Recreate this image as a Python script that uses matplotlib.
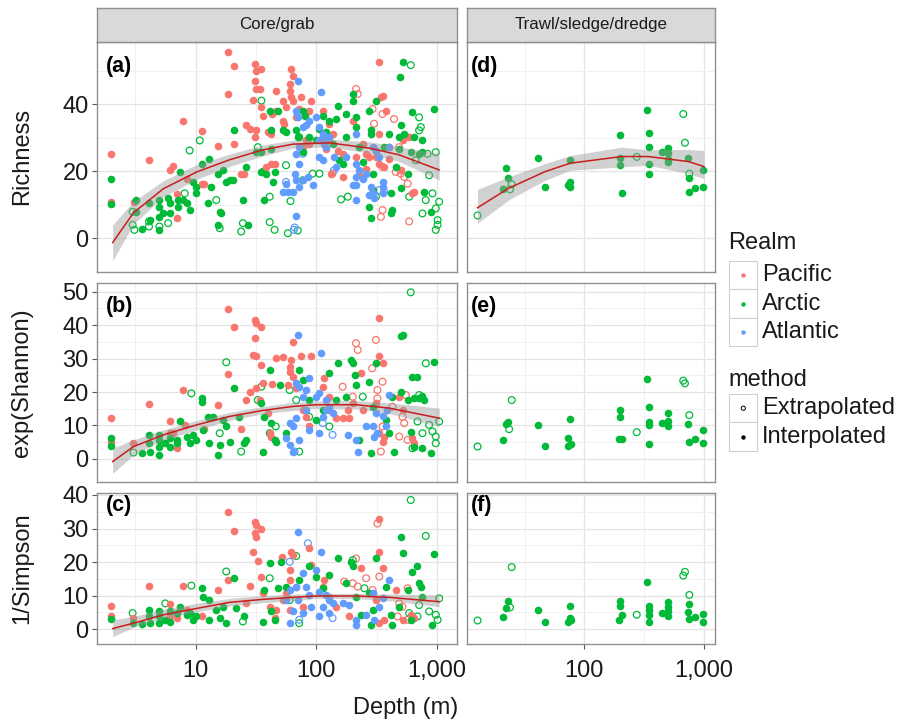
import matplotlib
matplotlib.use("Agg")
import matplotlib.pyplot as plt
from matplotlib.patches import Rectangle
from matplotlib.ticker import FixedLocator, NullFormatter

plt.rcParams["font.family"] = ["Liberation Sans", "DejaVu Sans"]

W, H = 897, 723

PACIFIC = "#F8766D"
ARCTIC = "#00BA38"
ATLANTIC = "#619CFF"

# ---------------------------------------------------------------------------
# Data: (depth m, value)
# ---------------------------------------------------------------------------
# (a) Richness, core/grab
A_PAC_FILLED = [(2.0, 25.2), (2.0, 10.7), (3.05, 10.7), (4.1, 23.5), (6.1, 20.3), (6.5, 21.6), (7.8, 35.1),
                (7.0, 13.1), (7.0, 5.9), (8.4, 17.8), (11.2, 32.0), (11.2, 16.3), (11.8, 16.1), (15.3, 27.4),
                (20.8, 28.0), (18.5, 55.6), (20.8, 51.3), (18.5, 43.1), (26, 33.7), (28, 32.7), (23.8, 19.3),
                (25, 19.1), (30.8, 52.0), (31.7, 50.0), (35, 50.5), (30.8, 47.0), (31.7, 44.6), (33.8, 44.6),
                (29.8, 41.3), (35, 39.1), (36, 36.6), (30.8, 30.2), (31.7, 32.2), (39.7, 31.7), (42, 31.2),
                (42, 22.3), (45, 22.3), (38.4, 21.3), (46, 44.1), (53, 41.1), (46, 38.1), (43, 37.1), (53, 35.1),
                (54, 34.2), (60, 46.0), (62, 50.5), (64, 48.5), (60, 44.1), (62, 42.1), (64, 41.1), (68, 36.1),
                (56, 39.1), (72, 38.6), (75, 42.1), (87, 38.1), (90, 41.1), (82, 29.2), (87, 28.2), (77, 27.2),
                (113, 38.1), (128, 34.2), (113, 30.2), (128, 29.2), (136, 31.2), (120, 26.7), (150, 26.2),
                (165, 25.2), (200, 35.1), (213, 24.3), (242, 28.2), (258, 25.2), (274, 24.3), (311, 24.3),
                (332, 52.5), (342, 42.1), (353, 42.6), (332, 31.2), (376, 38.1), (401, 27.2), (311, 26.2),
                (332, 22.3), (365, 21.3), (517, 29.2), (587, 30.2), (625, 13.4), (645, 13.9), (132, 19.3),
                (165, 18.3), (227, 18.8), (258, 20.8), (401, 23.8), (500, 20.3)]
A_PAC_OPEN = [(213, 44.6), (220, 43.1), (292, 38.6), (353, 37.1), (440, 35.6), (300, 34.2), (551, 30.4),
              (485, 27.2), (455, 19.8), (500, 19.3), (534, 18.3), (570, 16.3), (353, 21.3), (353, 8.4),
              (342, 6.4), (136, 19.3), (587, 5.0)]
A_ARC_FILLED = [(2.0, 17.6), (2.0, 10.2), (3.2, 11.4), (3.2, 7.9), (3.6, 2.7), (4.1, 10.4), (4.2, 5.4),
                (5.0, 11.4), (5.0, 9.4), (5.0, 6.4), (5.0, 2.5), (5.4, 7.4), (5.9, 11.9), (6.1, 10.4), (6.1, 7.4),
                (7.1, 11.4), (7.1, 9.4), (7.9, 11.4), (8.4, 10.4), (8.9, 8.4), (7.4, 19.8), (9.5, 16.8),
                (10.1, 13.4), (10.1, 15.3), (11.2, 22.3), (12.6, 10.4), (13, 23.8), (13.5, 15.3), (15.3, 19.3),
                (15.8, 7.9), (15.3, 4.0), (16.3, 7.4), (16.8, 20.3), (17.9, 16.8), (19.1, 17.3), (20.8, 32.2),
                (20.3, 17.3), (24.6, 11.4), (27, 4.0), (26, 21.3), (31.7, 25.7), (35, 25.7), (37, 11.4),
                (35, 19.8), (38.4, 19.3), (41, 38.1), (42, 32.2), (42, 26.7), (43.5, 16.8), (45, 19.8),
                (48, 38.1), (53, 32.2), (56, 31.7), (68, 32.2), (70, 30.2), (77, 38.1), (80, 36.6), (77, 25.7),
                (87, 30.2), (99, 29.2), (106, 32.7), (113, 36.6), (120, 31.7), (128, 35.1), (145, 35.6),
                (150, 39.6), (136, 28.2), (155, 23.3), (165, 22.3), (176, 37.1), (176, 30.2), (200, 43.1),
                (200, 41.1), (213, 36.1), (213, 33.2), (227, 27.2), (242, 22.8), (274, 38.1), (283, 32.2),
                (283, 31.2), (292, 19.3), (292, 14.4), (274, 9.4), (283, 5.9), (311, 41.1), (365, 27.2),
                (401, 31.2), (414, 13.4), (427, 8.4), (414, 7.4), (455, 21.3), (485, 30.2), (500, 33.7),
                (485, 26.7), (500, 14.9), (517, 52.7), (490, 48.2), (534, 31.2), (570, 19.3), (605, 25.7),
                (625, 37.6), (645, 30.2), (710, 25.2), (756, 25.7), (756, 29.2), (780, 13.9), (885, 7.9),
                (945, 38.6)]
A_ARC_OPEN = [(3.0, 7.9), (3.0, 4.0), (3.1, 2.5), (4.1, 5.0), (4.1, 3.5), (5.0, 3.5), (5.9, 4.5), (8.1, 13.4),
              (8.9, 26.2), (10.8, 29.2), (14.8, 11.4), (15.8, 3.0), (24.6, 4.5), (23.8, 2.0), (32.7, 27.2),
              (35, 41.1), (36, 19.8), (41, 12.4), (41, 4.8), (45, 2.5), (56, 21.8), (61, 11.1), (58, 1.5),
              (70, 2.3), (72, 30.2), (77, 17.3), (93, 19.3), (106, 19.3), (160, 11.6), (182, 12.4), (311, 12.4),
              (587, 12.4), (605, 51.7), (710, 36.1), (733, 33.2), (710, 32.2), (666, 23.3), (832, 25.2),
              (975, 25.7), (859, 18.8), (915, 13.4), (975, 8.9), (1010, 5.4), (1010, 4.0), (975, 2.5),
              (1040, 10.9), (756, 7.4), (806, 11.4)]
A_ATL_FILLED = [(70, 47.0), (110, 43.6), (68, 38.1), (70, 36.1), (77, 33.2), (82, 33.7), (87, 35.1), (99, 36.1),
                (106, 33.2), (113, 31.2), (106, 29.2), (116, 28.2), (120, 30.2), (128, 30.2), (72, 27.2),
                (68, 25.2), (72, 22.3), (66, 19.3), (68, 17.3), (77, 17.3), (72, 15.3), (56, 16.3), (53, 13.9),
                (58, 13.9), (64, 13.9), (85, 18.3), (93, 15.8), (113, 23.3), (120, 27.2), (106, 24.3),
                (140, 24.3), (145, 21.3), (176, 24.3), (213, 31.2), (213, 22.3), (227, 20.3), (213, 18.3),
                (200, 15.8), (213, 15.8), (213, 11.4), (242, 17.8), (258, 19.3), (274, 12.9), (283, 15.3),
                (292, 13.4), (300, 11.9), (332, 24.3), (353, 16.8), (353, 15.3), (353, 13.4), (401, 27.2),
                (68, 6.6), (292, 27.2), (311, 26.2)]
A_ATL_OPEN = [(66, 3.2), (65, 2.5), (56, 16.8), (332, 14.4), (365, 13.9), (77, 25.2), (140, 20.3)]

# (b) exp(Shannon), core/grab
B_PAC_FILLED = [(2.0, 12.2), (2.0, 5.2), (3.0, 4.7), (4.1, 16.4), (6.1, 11.2), (6.1, 7.7), (6.5, 7.7),
                (7.0, 3.2), (7.8, 20.6), (8.1, 10.2), (11.8, 8.9), (15.3, 16.1), (18.5, 44.7), (20.8, 39.3),
                (18.5, 25.3), (26, 17.6), (28, 20.1), (23.8, 8.9), (30.8, 41.5), (31.7, 40.5), (35, 39.5),
                (30.8, 36.3), (29.8, 31.1), (31.7, 30.8), (35, 28.1), (31.7, 21.1), (36, 22.6), (33.8, 17.6),
                (39.7, 13.6), (41, 7.7), (42, 6.7), (43, 22.3), (46, 30.1), (53, 30.4), (62, 29.6), (60, 27.6),
                (64, 35.1), (60, 26.1), (64, 24.6), (68, 21.1), (58, 22.1), (75, 30.8), (90, 30.8), (77, 14.6),
                (82, 12.6), (87, 9.7), (113, 21.6), (116, 24.1), (128, 18.6), (128, 14.6), (145, 12.2),
                (165, 12.2), (182, 14.6), (188, 12.2), (200, 16.6), (235, 25.6), (242, 14.6), (332, 42.0),
                (332, 30.8), (353, 28.6), (311, 16.6), (332, 7.7), (353, 5.2), (365, 6.7), (517, 14.6),
                (485, 18.6), (625, 6.2), (645, 4.7)]
B_PAC_OPEN = [(213, 34.6), (220, 32.6), (311, 35.6), (290, 27.1), (353, 23.1), (320, 20.6), (320, 18.1),
              (165, 21.6), (200, 18.6), (427, 15.6), (551, 19.1), (517, 12.6), (534, 10.7), (485, 6.7),
              (570, 5.7), (342, 2.2), (353, 9.7)]
B_ARC_FILLED = [(2.0, 6.2), (2.0, 3.9), (3.6, 1.9), (4.1, 7.2), (4.1, 4.7), (4.2, 2.2), (5.0, 7.2), (5.0, 5.7),
                (5.0, 3.7), (5.0, 1.2), (5.6, 4.7), (6.1, 6.2), (6.1, 3.7), (7.0, 5.7), (7.0, 4.7), (7.4, 11.2),
                (8.4, 6.7), (8.9, 4.7), (9.5, 7.2), (10.1, 5.7), (11.2, 18.1), (11.2, 17.1), (11.5, 8.7),
                (13, 4.7), (12.6, 12.6), (13.9, 12.6), (15.3, 1.2), (15.8, 4.2), (16.8, 11.7), (17.9, 9.7),
                (19.1, 5.2), (20.8, 21.1), (23, 12.6), (25, 4.7), (26, 5.7), (36, 2.2), (37, 12.6), (35, 16.6),
                (41, 26.6), (42, 10.7), (45, 5.7), (46, 5.2), (49.5, 22.1), (56, 7.7), (72, 26.6), (77, 23.6),
                (87, 17.6), (99, 11.7), (113, 14.6), (128, 25.6), (145, 17.6), (150, 28.6), (176, 18.6),
                (194, 29.6), (200, 28.6), (207, 25.1), (213, 22.1), (227, 5.7), (274, 23.1), (283, 1.7),
                (292, 15.6), (311, 28.6), (376, 11.7), (401, 7.7), (427, 18.6), (440, 2.2), (500, 20.1),
                (500, 36.6), (517, 37.1), (570, 17.6), (625, 24.6), (688, 24.6), (645, 18.1), (710, 18.1),
                (780, 17.6), (605, 8.2), (645, 3.7), (756, 3.2), (945, 29.1), (885, 1.7), (756, 18.8)]
B_ARC_OPEN = [(3.05, 1.9), (9.2, 19.6), (17.9, 28.9), (15.8, 7.7), (23.8, 2.2), (32.7, 17.6), (35, 21.6),
              (41, 7.7), (46, 9.7), (60, 20.6), (68, 17.6), (72, 2.2), (87, 12.6), (128, 9.7), (242, 18.6),
              (605, 49.8), (806, 28.6), (710, 19.1), (688, 11.2), (756, 7.7), (859, 10.2), (975, 6.7),
              (975, 4.7), (1040, 11.2), (625, 3.2), (915, 8.2)]
B_ATL_FILLED = [(70, 37.1), (110, 31.8), (68, 22.6), (72, 21.6), (82, 20.6), (87, 24.1), (99, 18.6),
                (106, 19.6), (120, 17.6), (128, 15.6), (120, 14.6), (136, 13.6), (113, 12.6), (77, 18.6),
                (82, 14.6), (68, 12.2), (64, 9.7), (60, 10.7), (56, 6.2), (60, 4.2), (64, 2.2), (72, 5.7),
                (87, 8.7), (106, 7.7), (182, 7.2), (213, 5.7), (220, 2.2), (258, 9.7), (311, 13.6), (320, 7.7),
                (300, 6.7), (353, 12.7), (388, 14.6), (401, 19.1), (376, 9.7), (292, 9.7)]
B_ATL_OPEN = [(66, 2.2), (136, 7.2), (113, 10.7)]

# (c) 1/Simpson, core/grab
C_PAC_FILLED = [(2.0, 6.9), (2.0, 3.8), (3.0, 3.3), (4.1, 12.9), (6.1, 7.5), (6.1, 3.8), (7.0, 3.3),
                (7.8, 12.9), (8.4, 5.8), (11.2, 3.8), (15.3, 11.7), (18.5, 34.8), (20.8, 29.4), (18.5, 14.7),
                (26, 7.7), (28, 12.9), (29.8, 23.0), (30.8, 32.0), (31.7, 31.1), (30.8, 28.6), (31.7, 27.6),
                (35, 29.8), (32.7, 20.4), (35, 15.7), (36, 10.7), (41, 6.7), (45, 3.3), (46, 5.8), (52, 21.6),
                (60, 17.7), (62, 23.1), (64, 22.1), (60, 14.7), (68, 12.7), (56, 10.7), (53, 8.7), (60, 5.8),
                (77, 6.7), (87, 24.1), (90, 19.1), (113, 12.7), (128, 9.7), (116, 14.7), (145, 6.7), (188, 3.8),
                (235, 18.2), (332, 32.7), (332, 23.1), (353, 18.2), (311, 8.7), (332, 1.8), (365, 2.8),
                (455, 11.7), (517, 2.8), (605, 4.3), (645, 3.3)]
C_PAC_OPEN = [(320, 31.5), (213, 21.1), (170, 14.2), (200, 13.7), (220, 12.7), (258, 15.2), (332, 15.7),
              (292, 11.7), (570, 12.2), (485, 7.7), (517, 6.7), (470, 3.8), (570, 2.8)]
C_ARC_FILLED = [(2.0, 3.0), (3.0, 1.8), (3.6, 1.6), (4.1, 5.8), (4.1, 3.8), (4.2, 1.8), (5.0, 5.3), (5.0, 3.8),
                (5.0, 1.8), (5.6, 2.8), (6.1, 5.3), (6.1, 2.3), (7.0, 4.8), (7.4, 6.7), (8.4, 4.3), (8.9, 4.8),
                (9.5, 2.8), (10.1, 3.8), (11.2, 12.2), (11.5, 9.7), (13, 8.7), (13, 2.8), (14.8, 5.8),
                (15.8, 3.3), (16.8, 6.7), (17.9, 1.8), (20.8, 15.4), (21.7, 6.3), (25, 3.8), (36, 2.3),
                (37, 11.7), (41, 19.6), (42, 5.3), (45, 2.8), (48, 12.2), (51, 20.1), (56, 12.7), (72, 14.7),
                (87, 18.7), (99, 15.7), (113, 12.2), (128, 16.2), (150, 21.1), (176, 13.7), (194, 20.1),
                (200, 18.7), (213, 9.7), (235, 4.3), (274, 10.7), (283, 1.3), (292, 5.8), (311, 21.1),
                (376, 12.7), (427, 1.3), (414, 4.3), (500, 27.6), (517, 22.6), (570, 11.7), (625, 17.2),
                (688, 18.8), (710, 13.7), (733, 12.7), (756, 9.7), (915, 1.3), (945, 22.4), (605, 2.8),
                (485, 6.7)]
C_ARC_OPEN = [(3.0, 4.8), (5.6, 7.7), (9.2, 13.0), (17.9, 17.2), (24.6, 2.3), (41, 15.2), (68, 21.8),
              (72, 1.8), (60, 8.7), (200, 20.6), (250, 12.2), (605, 38.5), (806, 27.8), (710, 7.2), (859, 5.3),
              (975, 4.3), (1040, 9.2), (1010, 2.8), (688, 3.8), (587, 4.8)]
C_ATL_FILLED = [(70, 29.1), (110, 23.1), (56, 8.7), (60, 11.7), (68, 12.7), (70, 8.7), (77, 16.7), (82, 12.7),
                (87, 10.2), (99, 17.7), (106, 11.2), (120, 10.2), (128, 8.7), (136, 7.7), (113, 6.7), (64, 5.3),
                (60, 1.8), (77, 4.8), (90, 6.7), (106, 3.8), (128, 4.8), (165, 7.7), (188, 7.2), (213, 2.8),
                (213, 1.3), (258, 4.3), (292, 10.7), (332, 6.7), (353, 9.2), (401, 14.7), (300, 2.8)]
C_ATL_OPEN = [(85, 25.6), (60, 20.1), (136, 3.3), (72, 2.8)]

# (d)-(f) trawl/sledge/dredge: Arctic only
D_ARC_FILLED = [(21, 14.7), (22, 21.0), (23, 18.0), (41.3, 24.1), (47, 15.3), (75.8, 23.5), (73.5, 16.0),
                (75.8, 16.8), (75.8, 15.3), (199, 30.7), (199, 24.0), (199, 21.8), (205, 13.4), (332, 38.3),
                (347, 31.4), (347, 27.2), (347, 22.1), (347, 19.1), (443, 25.7), (497, 27.0), (503, 25.4),
                (497, 23.8), (503, 22.8), (739, 24.1), (754, 18.0), (754, 13.9), (841, 15.1), (987, 15.3),
                (987, 20.5)]
D_ARC_OPEN = [(12.8, 6.8), (23.9, 14.6), (24.7, 16.1), (274, 24.3), (671, 37.1), (693, 28.5), (754, 19.3)]
E_ARC_FILLED = [(21, 5.7), (22, 10.5), (23, 10.9), (41.3, 10.2), (47, 3.9), (75.8, 11.9), (73.5, 6.2),
                (73.5, 4.0), (77, 4.4), (199, 14.6), (199, 12.6), (195, 5.9), (205, 5.9), (332, 24.0),
                (347, 15.6), (347, 10.9), (347, 10.2), (347, 4.5), (443, 10.7), (497, 13.8), (503, 11.2),
                (503, 9.7), (739, 10.5), (754, 5.0), (841, 5.9), (987, 8.7), (987, 4.9)]
E_ARC_OPEN = [(12.8, 3.7), (24.7, 17.6), (23.5, 8.9), (274, 8.0), (671, 23.4), (693, 22.6), (754, 13.1)]
F_ARC_FILLED = [(21, 3.7), (22, 6.3), (23, 8.4), (41.3, 5.6), (47, 2.2), (75.8, 6.9), (73.5, 2.3), (75.8, 3.3),
                (77, 2.8), (199, 8.5), (199, 6.9), (205, 4.2), (195, 2.8), (332, 14.2), (347, 6.9), (347, 5.8),
                (347, 4.3), (347, 2.2), (443, 4.8), (497, 8.2), (503, 6.7), (503, 5.3), (503, 4.0), (754, 7.5),
                (739, 5.2), (754, 3.0), (841, 3.6), (987, 4.4), (987, 2.3)]
F_ARC_OPEN = [(12.8, 2.6), (24.7, 18.5), (23.9, 6.5), (274, 4.3), (671, 16.0), (693, 17.1), (754, 10.2)]

# Fitted curves with confidence band
FIT_A_DEPTH = [2.05, 3.05, 5.4, 10.2, 19, 36, 64, 128, 275, 485, 1040]
FIT_A = [-1.3, 7.6, 14.8, 19.8, 23.4, 26.4, 28.1, 28.5, 26.9, 24.9, 20.4]
FIT_A_LO = [-6.7, 4.2, 12.4, 17.6, 21.4, 24.6, 26.9, 27.3, 25.4, 22.9, 17.4]
FIT_A_HI = [4.0, 11.0, 17.2, 22.0, 25.1, 27.9, 29.3, 29.6, 28.8, 27.3, 25.4]

FIT_B_DEPTH = [2.05, 3.05, 5.4, 10.2, 19, 36, 64, 99, 213, 401, 1040]
FIT_B = [-0.8, 3.7, 7.2, 10.2, 12.7, 14.5, 15.7, 16.2, 16.2, 15.2, 12.2]
FIT_B_LO = [-4.3, 1.2, 5.7, 8.7, 11.5, 13.5, 14.5, 15.1, 15.0, 13.6, 9.7]
FIT_B_HI = [3.2, 5.7, 8.7, 11.5, 13.9, 15.7, 16.9, 17.3, 17.4, 16.8, 15.2]

FIT_C_DEPTH = [2.05, 3.05, 5.4, 10.2, 19, 36, 64, 99, 213, 401, 1040]
FIT_C = [0.2, 1.8, 4.3, 6.2, 8.0, 8.9, 9.5, 9.9, 9.9, 9.5, 8.2]
FIT_C_LO = [-2.2, 0.6, 3.3, 5.2, 6.9, 7.9, 8.5, 9.2, 9.1, 8.5, 6.7]
FIT_C_HI = [2.8, 3.8, 6.0, 7.7, 9.2, 10.0, 10.5, 10.6, 10.7, 10.5, 10.2]

FIT_D_DEPTH = [12.8, 23.2, 47, 76, 205, 342, 740, 1000]
FIT_D = [9.1, 14.9, 19.9, 22.4, 24.4, 24.4, 22.9, 21.4]
FIT_D_LO = [4.5, 11.4, 17.3, 20.3, 21.3, 21.8, 19.3, 17.8]
FIT_D_HI = [14.6, 18.3, 22.3, 24.7, 27.2, 26.4, 26.5, 26.2]

ROW_LABELS = ["Richness", "exp(Shannon)", "1/Simpson"]
COL_LABELS = ["Core/grab", "Trawl/sledge/dredge"]
PANEL_TAGS = [["(a)", "(d)"], ["(b)", "(e)"], ["(c)", "(f)"]]
REALMS = ["Pacific", "Arctic", "Atlantic"]
METHODS = ["Extrapolated", "Interpolated"]

BORDER = "#8F8F8F"
TEXT = "#1A1A1A"
BIG = 17


def px_axes(fig, x0, y0, x1, y1):
    return fig.add_axes([x0 / W, 1 - y1 / H, (x1 - x0) / W, (y1 - y0) / H])


def style_panel(ax, xlim, xmajor, xminor, ylim, ymajor, yminor, show_x, show_y):
    ax.set_xscale("log")
    ax.set_xlim(*xlim)
    ax.set_ylim(*ylim)
    ax.xaxis.set_major_locator(FixedLocator(xmajor))
    ax.xaxis.set_minor_locator(FixedLocator(xminor))
    ax.xaxis.set_minor_formatter(NullFormatter())
    ax.set_xticklabels(["{:,}".format(int(v)) for v in xmajor])
    ax.yaxis.set_major_locator(FixedLocator(ymajor))
    ax.yaxis.set_minor_locator(FixedLocator(yminor))
    ax.grid(True, which="major", color="#E4E4E4", lw=0.9)
    ax.grid(True, which="minor", color="#F1F1F1", lw=0.7)
    ax.set_axisbelow(True)
    for s in ax.spines.values():
        s.set_color(BORDER)
        s.set_linewidth(1.0)
    ax.tick_params(which="minor", length=0)
    ax.tick_params(axis="x", which="major", length=3.5 if show_x else 0, width=0.8, color="#555555",
                   labelbottom=show_x, labelsize=BIG, pad=8, labelcolor=TEXT)
    ax.tick_params(axis="y", which="major", length=3.5 if show_y else 0, width=0.8, color="#555555",
                   labelleft=show_y, labelsize=BIG, pad=2.5, labelcolor=TEXT)


def draw_points(ax, pts, color, filled):
    d = [p[0] for p in pts]
    v = [p[1] for p in pts]
    if filled:
        ax.scatter(d, v, s=30, color=color, linewidths=0, zorder=2.2)
    else:
        ax.scatter(d, v, s=24, facecolors="none", edgecolors=color, linewidths=0.9, zorder=2.1)


def draw_fit(ax, depth, fit, lo, hi):
    ax.fill_between(depth, lo, hi, color="#9A9A9A", alpha=0.45, linewidth=0, zorder=3)
    ax.plot(depth, fit, color="#C81E1E", lw=1.1, zorder=4)


fig = plt.figure(figsize=(W / 100, H / 100), dpi=100)
fig.patch.set_facecolor("white")

COLS = [(97, 457), (467, 715)]
ROWS = [(41.7, 271.7), (283.3, 481.7), (493.3, 644)]
XLIMS = [(1.52, 1462), (10.45, 1236)]
XMAJOR = [[10, 100, 1000], [100, 1000]]
XMINOR = [[10 ** 0.5, 10 ** 1.5, 10 ** 2.5], [10 ** 1.5, 10 ** 2.5]]
YLIMS = [(-10, 58.7), (-6.8, 52.5), (-4.4, 40.5)]
YMAJOR = [[0, 20, 40], [0, 10, 20, 30, 40, 50], [0, 10, 20, 30, 40]]
YMINOR = [[10, 30, 50], [5, 15, 25, 35, 45], [5, 15, 25, 35]]

LEFT_DATA = [
    (A_PAC_FILLED, A_PAC_OPEN, A_ARC_FILLED, A_ARC_OPEN, A_ATL_FILLED, A_ATL_OPEN),
    (B_PAC_FILLED, B_PAC_OPEN, B_ARC_FILLED, B_ARC_OPEN, B_ATL_FILLED, B_ATL_OPEN),
    (C_PAC_FILLED, C_PAC_OPEN, C_ARC_FILLED, C_ARC_OPEN, C_ATL_FILLED, C_ATL_OPEN),
]
RIGHT_DATA = [(D_ARC_FILLED, D_ARC_OPEN), (E_ARC_FILLED, E_ARC_OPEN), (F_ARC_FILLED, F_ARC_OPEN)]
LEFT_FITS = [(FIT_A_DEPTH, FIT_A, FIT_A_LO, FIT_A_HI),
             (FIT_B_DEPTH, FIT_B, FIT_B_LO, FIT_B_HI),
             (FIT_C_DEPTH, FIT_C, FIT_C_LO, FIT_C_HI)]
TAG_Y = [66.7, 306.5, 506]
TAG_X = [106, 471]

for r, (y0, y1) in enumerate(ROWS):
    for c, (x0, x1) in enumerate(COLS):
        ax = px_axes(fig, x0, y0, x1, y1)
        style_panel(ax, XLIMS[c], XMAJOR[c], XMINOR[c], YLIMS[r], YMAJOR[r], YMINOR[r],
                    show_x=(r == 2), show_y=(c == 0))
        if c == 0:
            pf, po, af, ao, tf, to = LEFT_DATA[r]
            draw_points(ax, po, PACIFIC, False)
            draw_points(ax, ao, ARCTIC, False)
            draw_points(ax, to, ATLANTIC, False)
            draw_points(ax, pf, PACIFIC, True)
            draw_points(ax, af, ARCTIC, True)
            draw_points(ax, tf, ATLANTIC, True)
            draw_fit(ax, *LEFT_FITS[r])
        else:
            af, ao = RIGHT_DATA[r]
            draw_points(ax, ao, ARCTIC, False)
            draw_points(ax, af, ARCTIC, True)
            if r == 0:
                draw_fit(ax, FIT_D_DEPTH, FIT_D, FIT_D_LO, FIT_D_HI)
        fig.text(TAG_X[c] / W, 1 - TAG_Y[r] / H, PANEL_TAGS[r][c], fontsize=15.5, fontweight="bold",
                 ha="left", va="center", color="black")
    fig.text(22 / W, 1 - (y0 + y1) / 2 / H, ROW_LABELS[r], rotation=90, fontsize=BIG,
             ha="center", va="center", color=TEXT)

# strips
for c, (x0, x1) in enumerate(COLS):
    sax = px_axes(fig, x0, 8, x1, 41.7)
    sax.set_facecolor("#D9D9D9")
    sax.set_xticks([])
    sax.set_yticks([])
    for s in sax.spines.values():
        s.set_color(BORDER)
        s.set_linewidth(1.0)
    sax.text(0.5, 0.5, COL_LABELS[c], transform=sax.transAxes, ha="center", va="center",
             fontsize=12.2, color=TEXT)

fig.text(406 / W, 1 - 708 / H, "Depth (m)", ha="center", va="center", fontsize=BIG, color=TEXT)

# legend drawn in pixel coordinates
ov = fig.add_axes([0, 0, 1, 1])
ov.set_xlim(0, W)
ov.set_ylim(H, 0)
ov.axis("off")

ov.text(728, 243, "Realm", fontsize=BIG, ha="left", va="center", color=TEXT)
realm_colors = [PACIFIC, ARCTIC, ATLANTIC]
for i, (name, col) in enumerate(zip(REALMS, realm_colors)):
    top = 261 + i * 28.4
    ov.add_patch(Rectangle((729, top), 28.3, 28.4, facecolor="white", edgecolor="#D0D0D0", lw=0.8))
    ov.scatter([743.3], [top + 14.2], s=10, color=col, linewidths=0)
    ov.text(761.7, top + 14.2, name, fontsize=BIG, ha="left", va="center", color=TEXT)

ov.text(728, 380, "method", fontsize=BIG, ha="left", va="center", color=TEXT)
for i, name in enumerate(METHODS):
    top = 394 + i * 28.4
    ov.add_patch(Rectangle((729, top), 28.3, 28.4, facecolor="white", edgecolor="#D0D0D0", lw=0.8))
    if name == "Extrapolated":
        ov.scatter([743.3], [top + 14.2], s=9, facecolors="none", edgecolors="black", linewidths=0.7)
    else:
        ov.scatter([743.3], [top + 14.2], s=10, color="black", linewidths=0)
    ov.text(761.7, top + 14.2, name, fontsize=BIG, ha="left", va="center", color=TEXT)

fig.savefig("out.png", dpi=100, facecolor="white")
